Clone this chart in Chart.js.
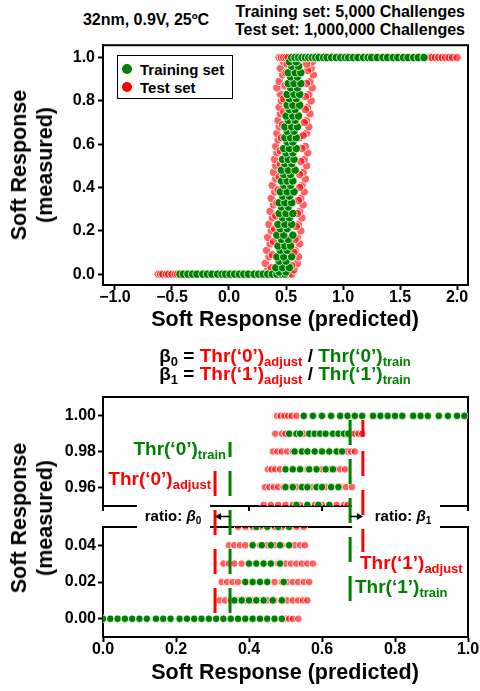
<!DOCTYPE html>
<html>
<head>
<meta charset="utf-8">
<title>Soft response: predicted vs measured</title>
<script src="https://cdn.jsdelivr.net/npm/chart.js@4.4.1/dist/chart.umd.min.js"></script>
<style>
  html, body { margin: 0; padding: 0; background: #fff; }
  #page { position: relative; width: 480px; height: 691px; overflow: hidden;
          font-family: 'Liberation Sans', Arial, Helvetica, sans-serif; font-weight: bold; color: #000; }
  canvas { position: absolute; left: 0; }
  #topChart { top: 40px; }
  #bottomChart { top: 390px; }
  .lbl { position: absolute; white-space: nowrap; line-height: 1; }
  .c { transform: translate(-50%, -50%); }
  .r { transform: translate(-100%, -50%); }
  .l { transform: translate(0, -50%); }
  .red { color: #ff0000; }
  .green { color: #008000; }
  .sub { font-size: 13px; vertical-align: -4px; }
  .big { font-size: 19px; }
  .ytitle { position: absolute; font-size: 21.5px; line-height: 26px; text-align: center; white-space: nowrap;
            transform: translate(-50%, -50%) rotate(-90deg); }
  .xtitle { font-size: 21.5px; }
  .ratio { font-size: 15px; }
  .ratio i { font-style: italic; }
  .ratio .sub { font-size: 10px; vertical-align: -3px; }
  #legend { position: absolute; left: 117px; top: 55px; width: 114px; height: 42px;
            border: 1.5px solid #000; background: #fff; font-size: 15px; }
  #legend .row { position: absolute; left: 0; height: 18px; display: flex; align-items: center; }
  #legend .dot { width: 10px; height: 10px; border-radius: 50%; margin: 0 8px 0 4px; }
</style>
</head>
<body>
<div id="page">
  <div class="lbl c" style="left:146px; top:20px; font-size:16px;">32nm, 0.9V, 25ºC</div>
  <div class="lbl r" style="left:465px; top:12px; font-size:16px;">Training set: 5,000 Challenges</div>
  <div class="lbl r" style="left:465px; top:30px; font-size:16px;">Test set: 1,000,000 Challenges</div>

  <canvas id="topChart" width="480" height="270"></canvas>

  <div id="legend">
    <div class="row" style="top:4px;"><span class="dot" style="background:#008000;"></span>Training set</div>
    <div class="row" style="top:22px;"><span class="dot" style="background:#ff0000;"></span>Test set</div>
  </div>

  <div class="ytitle" style="left:32px; top:165px;">Soft Response<br>(measured)</div>
  <div class="lbl c xtitle" style="left:285px; top:320px;">Soft Response (predicted)</div>

  <div class="lbl c big" style="left:285px; top:357px;">β<span class="sub">0</span> = <span class="red">Thr(‘0’)<span class="sub">adjust</span></span> / <span class="green">Thr(‘0’)<span class="sub">train</span></span></div>
  <div class="lbl c big" style="left:285px; top:375px;">β<span class="sub">1</span> = <span class="red">Thr(‘1’)<span class="sub">adjust</span></span> / <span class="green">Thr(‘1’)<span class="sub">train</span></span></div>

  <canvas id="bottomChart" width="480" height="301"></canvas>

  <div class="lbl r big green" style="left:226px; top:450px;">Thr(‘0’)<span class="sub">train</span></div>
  <div class="lbl r big red" style="left:211px; top:480px;">Thr(‘0’)<span class="sub">adjust</span></div>
  <div class="lbl c ratio" style="left:173px; top:517px;">ratio: <i>β</i><span class="sub">0</span></div>
  <div class="lbl c ratio" style="left:403px; top:517px;">ratio: <i>β</i><span class="sub">1</span></div>
  <div class="lbl l big red" style="left:360px; top:564px;">Thr(‘1’)<span class="sub">adjust</span></div>
  <div class="lbl l big green" style="left:355px; top:588px;">Thr(‘1’)<span class="sub">train</span></div>

  <div class="ytitle" style="left:32px; top:518px;">Soft Response<br>(measured)</div>
  <div class="lbl c xtitle" style="left:285px; top:673px;">Soft Response (predicted)</div>
</div>

<script>
// ---------- top panel data ----------
const xTicksTop = [-1.0, -0.5, 0.0, 0.5, 1.0, 1.5, 2.0];
const yTicksTop = [0.0, 0.2, 0.4, 0.6, 0.8, 1.0];

// training set: flat part at 0, rising band, flat part at 1
const trainLowX = [-0.43, -0.40, -0.36, -0.32, -0.28, -0.23, -0.19, -0.15, -0.10, -0.06, -0.03, 0.01,
                   0.05, 0.09, 0.13, 0.17, 0.22, 0.26, 0.30, 0.34, 0.38, 0.42, 0.46, 0.49];
const trainHighX = [0.55, 0.58, 0.61, 0.64, 0.67, 0.70, 0.73, 0.76, 0.79, 0.83, 0.86, 0.90, 0.94, 0.98,
                    1.02, 1.05, 1.09, 1.13, 1.18, 1.22, 1.25, 1.30, 1.35, 1.39, 1.44, 1.48, 1.53, 1.57,
                    1.62, 1.66, 1.71];
const trainRise = [
  [0.44, 0.01], [0.50, 0.01], [0.41, 0.03], [0.47, 0.03], [0.53, 0.03], [0.44, 0.06], [0.50, 0.06],
  [0.42, 0.08], [0.48, 0.08], [0.55, 0.08], [0.45, 0.11], [0.51, 0.11], [0.43, 0.13], [0.49, 0.13],
  [0.54, 0.13], [0.46, 0.16], [0.52, 0.16], [0.42, 0.18], [0.48, 0.18], [0.56, 0.18], [0.45, 0.21],
  [0.51, 0.21], [0.43, 0.23], [0.49, 0.23], [0.55, 0.23], [0.47, 0.26], [0.53, 0.26], [0.44, 0.28],
  [0.50, 0.28], [0.56, 0.28], [0.46, 0.31], [0.52, 0.31], [0.44, 0.33], [0.49, 0.33], [0.55, 0.33],
  [0.47, 0.36], [0.53, 0.36], [0.45, 0.38], [0.51, 0.38], [0.57, 0.38], [0.48, 0.41], [0.54, 0.41],
  [0.46, 0.43], [0.51, 0.43], [0.56, 0.43], [0.48, 0.46], [0.54, 0.46], [0.46, 0.48], [0.52, 0.48],
  [0.58, 0.48], [0.49, 0.51], [0.55, 0.51], [0.47, 0.53], [0.52, 0.53], [0.57, 0.53], [0.50, 0.56],
  [0.56, 0.56], [0.48, 0.58], [0.53, 0.58], [0.59, 0.58], [0.51, 0.61], [0.56, 0.61], [0.49, 0.63],
  [0.54, 0.63], [0.59, 0.63], [0.51, 0.66], [0.57, 0.66], [0.49, 0.68], [0.55, 0.68], [0.60, 0.68],
  [0.52, 0.71], [0.58, 0.71], [0.50, 0.73], [0.56, 0.73], [0.61, 0.73], [0.53, 0.76], [0.58, 0.76],
  [0.51, 0.78], [0.56, 0.78], [0.62, 0.78], [0.53, 0.81], [0.59, 0.81], [0.51, 0.83], [0.57, 0.83],
  [0.62, 0.83], [0.54, 0.86], [0.60, 0.86], [0.52, 0.88], [0.57, 0.88], [0.63, 0.88], [0.54, 0.91],
  [0.60, 0.91], [0.52, 0.93], [0.58, 0.93], [0.63, 0.93], [0.55, 0.96], [0.61, 0.96], [0.53, 0.98],
  [0.59, 0.98]
];

// test set: flat tails and the wider rising band
const testLowX = [-0.62, -0.60, -0.58, -0.55, -0.53, -0.50, -0.47, -0.45, 0.50, 0.52, 0.55];
const testHighX = [0.44, 0.46, 0.48, 0.50, 0.52, 1.76, 1.78, 1.81, 1.84, 1.87, 1.90, 1.93, 1.96, 2.00];
const testRise = [
  [0.34, 0.02], [0.57, 0.02], [0.32, 0.05], [0.60, 0.05], [0.35, 0.08], [0.61, 0.08], [0.33, 0.11],
  [0.58, 0.11], [0.36, 0.14], [0.62, 0.14], [0.34, 0.17], [0.60, 0.17], [0.37, 0.20], [0.63, 0.20],
  [0.35, 0.23], [0.61, 0.23], [0.38, 0.26], [0.64, 0.26], [0.36, 0.29], [0.62, 0.29], [0.39, 0.32],
  [0.65, 0.32], [0.37, 0.35], [0.63, 0.35], [0.40, 0.38], [0.66, 0.38], [0.38, 0.41], [0.64, 0.41],
  [0.41, 0.44], [0.67, 0.44], [0.39, 0.47], [0.65, 0.47], [0.41, 0.50], [0.68, 0.50], [0.40, 0.53],
  [0.66, 0.53], [0.42, 0.56], [0.69, 0.56], [0.41, 0.59], [0.67, 0.59], [0.43, 0.62], [0.62, 0.63],
  [0.42, 0.65], [0.68, 0.65], [0.44, 0.68], [0.70, 0.68], [0.43, 0.71], [0.68, 0.71], [0.45, 0.74],
  [0.71, 0.74], [0.44, 0.77], [0.69, 0.77], [0.46, 0.80], [0.72, 0.80], [0.45, 0.83], [0.70, 0.83],
  [0.42, 0.86], [0.73, 0.86], [0.44, 0.89], [0.71, 0.89], [0.47, 0.92], [0.74, 0.92], [0.45, 0.95],
  [0.72, 0.95], [0.48, 0.98], [0.73, 0.98],
  // inner ring, just outside the training band
  [0.37, 0.03], [0.55, 0.04], [0.38, 0.09], [0.57, 0.10], [0.39, 0.15], [0.58, 0.16], [0.40, 0.21],
  [0.59, 0.22], [0.41, 0.27], [0.60, 0.28], [0.42, 0.33], [0.61, 0.34], [0.43, 0.39], [0.62, 0.40],
  [0.44, 0.45], [0.62, 0.46], [0.45, 0.51], [0.63, 0.52], [0.45, 0.57], [0.64, 0.58], [0.46, 0.63],
  [0.65, 0.64], [0.47, 0.69], [0.66, 0.70], [0.48, 0.75], [0.67, 0.76], [0.48, 0.81], [0.67, 0.82],
  [0.49, 0.87], [0.68, 0.88], [0.50, 0.93], [0.69, 0.94], [0.51, 0.97], [0.68, 0.97]
];

// ---------- bottom panel data (zoom on both plateaus) ----------
const xTicksBottom = [0.0, 0.2, 0.4, 0.6, 0.8, 1.0];
const yTicksUpper = [0.96, 0.98, 1.00];
const yTicksLower = [0.00, 0.02, 0.04];
const levelsUpper = [1.00, 0.99, 0.98, 0.97, 0.96, 0.95];
const levelsLower = [0.05, 0.04, 0.03, 0.02, 0.01, 0.00];

const trainUpperX = [
  [0.55, 0.575, 0.60, 0.625, 0.65, 0.67, 0.69, 0.71, 0.74, 0.76, 0.78, 0.80, 0.82, 0.85, 0.87, 0.89, 0.92, 0.945, 0.97, 0.99],
  [0.51, 0.53, 0.54, 0.565, 0.58, 0.595, 0.61, 0.63, 0.645, 0.66, 0.672],
  [0.525, 0.545, 0.56, 0.58, 0.60, 0.62, 0.64, 0.655],
  [0.50, 0.52, 0.54, 0.565, 0.585, 0.61, 0.63],
  [0.50, 0.52, 0.545, 0.56, 0.585, 0.60, 0.625, 0.645],
  [0.53, 0.56, 0.59, 0.62]
];
const testUpperX = [
  [0.477, 0.487, 0.497, 0.507, 0.517, 0.53],
  [0.472, 0.49, 0.50, 0.515, 0.53, 0.55, 0.57, 0.59, 0.61, 0.63, 0.65, 0.665, 0.68, 0.69, 0.70, 0.71],
  [0.466, 0.478, 0.49, 0.505, 0.52, 0.54, 0.56, 0.58, 0.60, 0.62, 0.64, 0.655, 0.668, 0.68, 0.69],
  [0.452, 0.462, 0.472, 0.485, 0.50, 0.52, 0.54, 0.56, 0.58, 0.60, 0.62, 0.635, 0.65, 0.663],
  [0.444, 0.456, 0.468, 0.48, 0.495, 0.51, 0.53, 0.55, 0.57, 0.59, 0.61, 0.63, 0.65, 0.666, 0.682],
  [0.44, 0.46, 0.48, 0.50, 0.52, 0.54, 0.56, 0.58, 0.60, 0.62, 0.64, 0.66, 0.67]
];
const trainLowerX = [
  [0.42, 0.45, 0.48, 0.51],
  [0.41, 0.435, 0.46, 0.485, 0.51],
  [0.40, 0.42, 0.44, 0.46, 0.485],
  [0.39, 0.41, 0.43, 0.45, 0.495],
  [0.36, 0.38, 0.40, 0.42, 0.44, 0.465, 0.49],
  [0.0, 0.02, 0.04, 0.06, 0.08, 0.10, 0.12, 0.145, 0.165, 0.185, 0.21, 0.23, 0.25, 0.27, 0.29, 0.31,
   0.33, 0.35, 0.37, 0.39, 0.41, 0.43, 0.45, 0.47, 0.49]
];
const testLowerX = [
  [0.37, 0.39, 0.41, 0.43, 0.45, 0.47, 0.49, 0.51, 0.53, 0.55],
  [0.345, 0.36, 0.375, 0.39, 0.41, 0.43, 0.45, 0.47, 0.49, 0.51, 0.525, 0.54, 0.553],
  [0.33, 0.345, 0.36, 0.38, 0.40, 0.42, 0.44, 0.46, 0.48, 0.50, 0.515, 0.53, 0.545, 0.56, 0.575],
  [0.325, 0.34, 0.355, 0.37, 0.39, 0.41, 0.43, 0.45, 0.47, 0.49, 0.505, 0.52, 0.535, 0.55, 0.565],
  [0.32, 0.335, 0.35, 0.37, 0.39, 0.41, 0.43, 0.45, 0.47, 0.49, 0.505, 0.52, 0.535, 0.548, 0.56],
  [0.50, 0.51, 0.52, 0.535]
];

// thresholds: Thr('0')adjust, Thr('0')train, Thr('1')train, Thr('1')adjust
const thrValues = [0.307, 0.348, 0.677, 0.712];

// ---------- helpers ----------
const GREEN = '#008000';
const RED = '#ff0000';
const tickFont = { family: "'Liberation Sans', Arial, sans-serif", size: 16, weight: 'bold', lineHeight: 1 };

function fmt(v, digits) {
  const s = Math.abs(v).toFixed(digits);
  return v < -1e-9 ? '\u2212' + s : s;
}

function makeAxis(o) {
  const axis = {
    type: 'linear',
    position: o.position,
    min: o.min,
    max: o.max,
    grid: { display: true, drawOnChartArea: false, drawTicks: true, tickLength: 5, tickWidth: 2, tickColor: '#000' },
    border: { display: true, color: '#000', width: 2 },
    ticks: { color: '#000', font: tickFont, padding: o.padding, callback: v => fmt(v, o.digits) },
    afterBuildTicks: scale => { scale.ticks = o.tickValues.map(value => ({ value })); },
    afterFit: scale => {
      if (scale.isHorizontal()) scale.height = o.size; else scale.width = o.size;
      scale.paddingLeft = scale.paddingRight = scale.paddingTop = scale.paddingBottom = 0;
    }
  };
  if (o.stack) { axis.stack = o.stack; axis.stackWeight = o.stackWeight; axis.weight = o.weight; }
  return axis;
}

function rowsToPoints(levels, rows) {
  const pts = [];
  rows.forEach((xs, i) => xs.forEach(x => pts.push({ x: x, y: levels[i] })));
  return pts;
}

const trainStyle = { backgroundColor: GREEN, borderColor: 'rgba(255,255,255,0.8)', borderWidth: 1, order: 0 };
const testStyle = { backgroundColor: 'rgba(255,0,0,0.62)', borderColor: 'rgba(255,255,255,0.9)', borderWidth: 1, order: 1 };

// ---------- top chart ----------
const trainTop = [
  ...trainLowX.map(x => ({ x: x, y: 0 })),
  ...trainRise.map(p => ({ x: p[0], y: p[1] })),
  ...trainHighX.map(x => ({ x: x, y: 1 }))
];
const testTop = [
  ...testLowX.map(x => ({ x: x, y: 0 })),
  ...testRise.map(p => ({ x: p[0], y: p[1] })),
  ...testHighX.map(x => ({ x: x, y: 1 }))
];

const frame = {
  id: 'frame',
  beforeDatasetsDraw(chart) {
    const { ctx, chartArea: a } = chart;
    ctx.save();
    ctx.strokeStyle = '#000';
    ctx.lineWidth = 2;
    ctx.strokeRect(a.left, a.top, a.right - a.left, a.bottom - a.top);
    ctx.restore();
  }
};

new Chart(document.getElementById('topChart'), {
  type: 'scatter',
  data: {
    datasets: [
      Object.assign({ label: 'Training set', data: trainTop, pointRadius: 4.2 }, trainStyle),
      Object.assign({ label: 'Test set', data: testTop, pointRadius: 4.2 }, testStyle)
    ]
  },
  options: {
    responsive: false,
    animation: false,
    devicePixelRatio: 1,
    events: [],
    layout: { padding: { top: 5, right: 12, left: 0, bottom: 0 } },
    plugins: { legend: { display: false }, tooltip: { enabled: false } },
    scales: {
      x: makeAxis({ position: 'bottom', min: -1.105, max: 2.096, tickValues: xTicksTop, digits: 1, size: 25, padding: 0 }),
      y: makeAxis({ position: 'left', min: -0.05, max: 1.057, tickValues: yTicksTop, digits: 1, size: 103, padding: 3 })
    }
  },
  plugins: [frame]
});

// ---------- bottom chart (broken y axis) ----------
const thrStyle = [
  { color: RED,   from: ['yTop', 0.969],  to: ['yBot', 0.0021], offset: 0 },
  { color: GREEN, from: ['yTop', 0.9853], to: ['yBot', 0.0021], offset: 10 },
  { color: GREEN, from: ['yTop', 0.9977], to: ['yBot', 0.0086], offset: 0 },
  { color: RED,   from: ['yTop', 0.9977], to: ['yBot', 0.0363], offset: 8 }
];

const brokenAxis = {
  id: 'brokenAxis',
  beforeDatasetsDraw(chart) {
    const { ctx, scales } = chart;
    const x = scales.x;
    ctx.save();
    ctx.strokeStyle = '#000';
    ctx.lineWidth = 2;
    [scales.yTop, scales.yBot].forEach(s => ctx.strokeRect(x.left, s.top, x.right - x.left, s.bottom - s.top));
    // ticks under the upper panel
    x.ticks.forEach(t => {
      const px = x.getPixelForValue(t.value);
      ctx.beginPath();
      ctx.moveTo(px, scales.yTop.bottom);
      ctx.lineTo(px, scales.yTop.bottom + 5);
      ctx.stroke();
    });
    ctx.restore();
  },
  afterDatasetsDraw(chart) {
    const { ctx, scales } = chart;
    const x = scales.x;
    const px = thrValues.map(v => x.getPixelForValue(v));
    const gapTop = scales.yTop.bottom;
    const gapBot = scales.yBot.top;
    ctx.save();
    // white label boxes that break the spines
    ctx.fillStyle = '#fff';
    ctx.fillRect(137, gapTop - 6, px[0] - 5 - 137, gapBot - gapTop + 12);
    ctx.fillRect(px[2] + 2, gapTop - 6, 440 - px[2] - 2, gapBot - gapTop + 12);
    // dashed threshold lines
    ctx.lineWidth = 3;
    ctx.setLineDash([25, 14]);
    thrStyle.forEach((st, i) => {
      ctx.strokeStyle = st.color;
      ctx.lineDashOffset = st.offset;
      ctx.beginPath();
      ctx.moveTo(px[i], scales[st.from[0]].getPixelForValue(st.from[1]));
      ctx.lineTo(px[i], scales[st.to[0]].getPixelForValue(st.to[1]));
      ctx.stroke();
    });
    // ratio arrows
    ctx.setLineDash([]);
    ctx.strokeStyle = '#000';
    ctx.fillStyle = '#000';
    ctx.lineWidth = 1.5;
    const ay = (gapTop + gapBot) / 2;
    [[px[1], px[0]], [px[2], px[3]]].forEach(([from, to]) => {
      const dir = Math.sign(to - from);
      ctx.beginPath();
      ctx.moveTo(from, ay);
      ctx.lineTo(to - dir * 5, ay);
      ctx.stroke();
      ctx.beginPath();
      ctx.moveTo(to, ay);
      ctx.lineTo(to - dir * 6, ay - 3.5);
      ctx.lineTo(to - dir * 6, ay + 3.5);
      ctx.closePath();
      ctx.fill();
    });
    ctx.restore();
  }
};

new Chart(document.getElementById('bottomChart'), {
  type: 'scatter',
  data: {
    datasets: [
      Object.assign({ label: 'Training set', data: rowsToPoints(levelsUpper, trainUpperX), yAxisID: 'yTop', pointRadius: 3.8 }, trainStyle),
      Object.assign({ label: 'Training set', data: rowsToPoints(levelsLower, trainLowerX), yAxisID: 'yBot', pointRadius: 3.8 }, trainStyle),
      Object.assign({ label: 'Test set', data: rowsToPoints(levelsUpper, testUpperX), yAxisID: 'yTop', pointRadius: 3.8 }, testStyle),
      Object.assign({ label: 'Test set', data: rowsToPoints(levelsLower, testLowerX), yAxisID: 'yBot', pointRadius: 3.8 }, testStyle)
    ]
  },
  options: {
    responsive: false,
    animation: false,
    devicePixelRatio: 1,
    events: [],
    layout: { padding: { top: 7, right: 12, left: 0, bottom: 0 } },
    plugins: { legend: { display: false }, tooltip: { enabled: false } },
    scales: {
      x: makeAxis({ position: 'bottom', min: 0, max: 1, tickValues: xTicksBottom, digits: 1, size: 54, padding: 0 }),
      yTop: makeAxis({ position: 'left', min: 0.9494, max: 1.0106, tickValues: yTicksUpper, digits: 2, size: 103, padding: 2,
                       stack: 'broken', stackWeight: 109, weight: 2 }),
      yGap: {
        type: 'linear', position: 'left', min: 0, max: 1, stack: 'broken', stackWeight: 21, weight: 1,
        ticks: { display: false }, grid: { display: false }, border: { display: false },
        afterFit: scale => { scale.width = 103; }
      },
      yBot: makeAxis({ position: 'left', min: -0.0099, max: 0.0499, tickValues: yTicksLower, digits: 2, size: 103, padding: 2,
                       stack: 'broken', stackWeight: 110, weight: 0 })
    }
  },
  plugins: [brokenAxis]
});
</script>
</body>
</html>
